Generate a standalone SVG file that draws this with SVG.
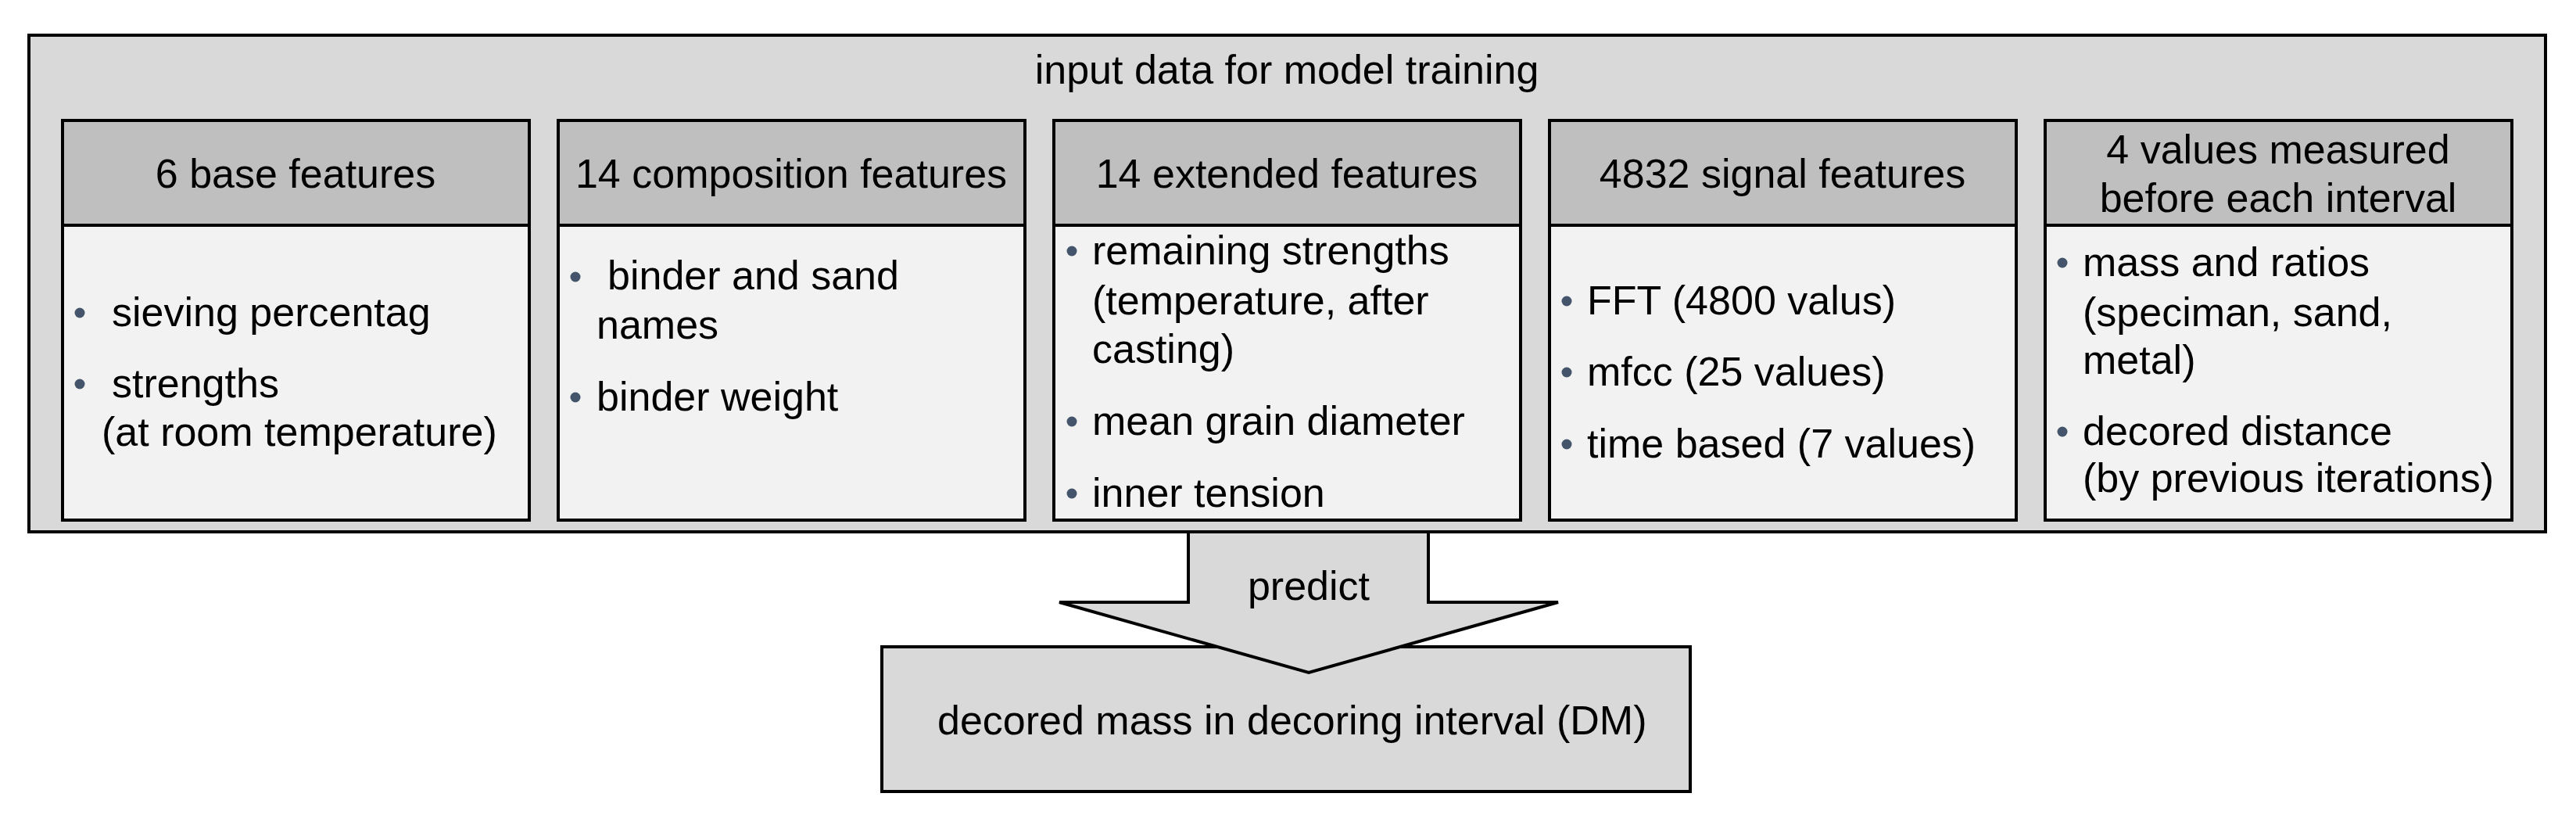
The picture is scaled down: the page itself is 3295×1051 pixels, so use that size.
<svg xmlns="http://www.w3.org/2000/svg" width="3295" height="1051" viewBox="0 0 3295 1051">
<style>
text{font-family:"Liberation Sans",Arial,sans-serif;font-size:52px;fill:#000}
.c{text-anchor:middle}
.frame{stroke:#000;stroke-width:4}
.outer{fill:#d9d9d9}
.head{fill:#bfbfbf}
.body{fill:#f2f2f2}
.dot{fill:#44546a}
</style>
<rect width="3295" height="1051" fill="#fff"/>
<g id="input-data">
<rect class="outer frame" x="37" y="45" width="3219" height="635"/>
<text class="c" x="1646" y="107">input data for model training</text>
</g>
<g id="base-features">
<rect class="head frame" x="80" y="154" width="597" height="134"/>
<rect class="body frame" x="80" y="288" width="597" height="377"/>
<text class="c" x="378" y="240">6 base features</text>
<circle class="dot" cx="102" cy="400" r="6.5"/>
<circle class="dot" cx="102" cy="491" r="6.5"/>
<text x="143" y="417">sieving percentag</text>
<text x="143" y="508">strengths</text>
<text x="130" y="570">(at room temperature)</text>
</g>
<g id="composition-features">
<rect class="head frame" x="714" y="154" width="597" height="134"/>
<rect class="body frame" x="714" y="288" width="597" height="377"/>
<text class="c" x="1012" y="240">14 composition features</text>
<circle class="dot" cx="736" cy="354" r="6.5"/>
<circle class="dot" cx="736" cy="508" r="6.5"/>
<text x="777" y="370">binder and sand</text>
<text x="763" y="433">names</text>
<text x="763" y="525">binder weight</text>
</g>
<g id="extended-features">
<rect class="head frame" x="1348" y="154" width="597" height="134"/>
<rect class="body frame" x="1348" y="288" width="597" height="377"/>
<text class="c" x="1646" y="240">14 extended features</text>
<circle class="dot" cx="1371" cy="321" r="6.5"/>
<circle class="dot" cx="1371" cy="539" r="6.5"/>
<circle class="dot" cx="1371" cy="631" r="6.5"/>
<text x="1397" y="338">remaining strengths</text>
<text x="1397" y="402">(temperature, after</text>
<text x="1397" y="464">casting)</text>
<text x="1397" y="556">mean grain diameter</text>
<text x="1397" y="648">inner tension</text>
</g>
<g id="signal-features">
<rect class="head frame" x="1982" y="154" width="597" height="134"/>
<rect class="body frame" x="1982" y="288" width="597" height="377"/>
<text class="c" x="2280" y="240">4832 signal features</text>
<circle class="dot" cx="2004" cy="385" r="6.5"/>
<circle class="dot" cx="2004" cy="476" r="6.5"/>
<circle class="dot" cx="2004" cy="568" r="6.5"/>
<text x="2030" y="402">FFT (4800 valus)</text>
<text x="2030" y="493">mfcc (25 values)</text>
<text x="2030" y="585">time based (7 values)</text>
</g>
<g id="measured-values">
<rect class="head frame" x="2616" y="154" width="597" height="134"/>
<rect class="body frame" x="2616" y="288" width="597" height="377"/>
<text class="c" x="2914" y="209">4 values measured</text>
<text class="c" x="2914" y="271">before each interval</text>
<circle class="dot" cx="2638" cy="336" r="6.5"/>
<circle class="dot" cx="2638" cy="552" r="6.5"/>
<text x="2664" y="353">mass and ratios</text>
<text x="2664" y="417">(speciman, sand,</text>
<text x="2664" y="478">metal)</text>
<text x="2664" y="569">decored distance</text>
<text x="2664" y="629">(by previous iterations)</text>
</g>
<g id="decored-mass">
<rect class="outer frame" x="1128" y="827" width="1034" height="185"/>
<text x="1199" y="939">decored mass in decoring interval (DM)</text>
</g>
<g id="connectors">
<polygon class="outer frame" points="1520,680 1520,770 1355,770 1674,860 1993,770 1827,770 1827,680"/>
<text class="c" x="1674" y="767">predict</text>
</g>
</svg>
